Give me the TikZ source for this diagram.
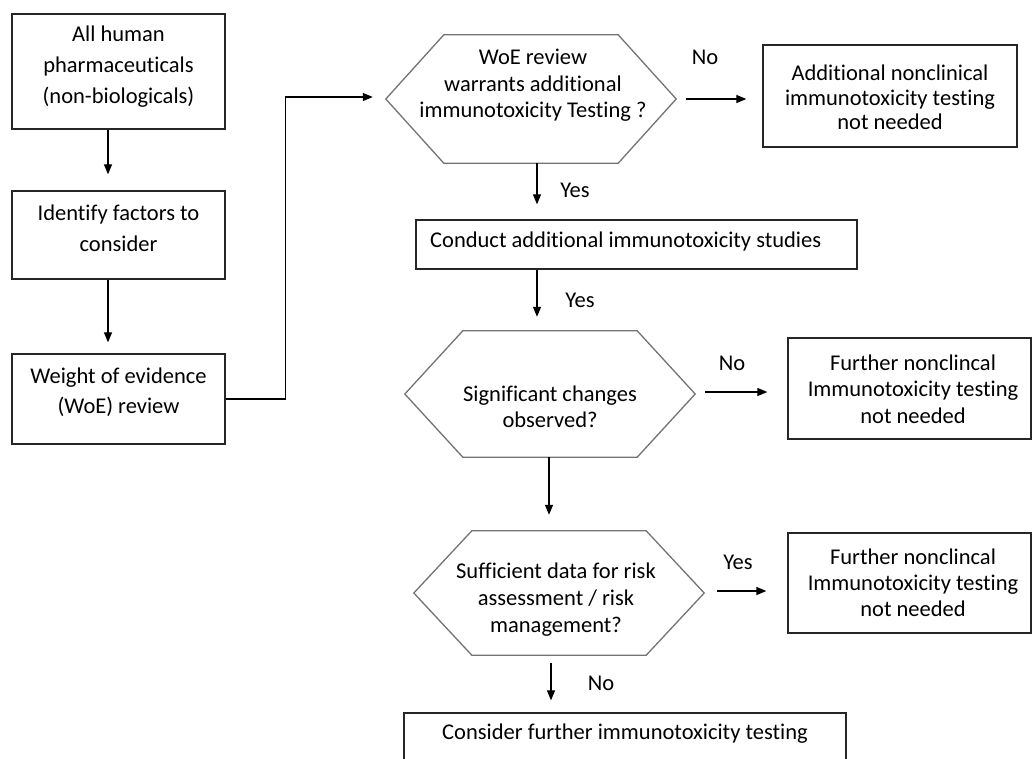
\documentclass[tikz,border=0pt]{standalone}
\usepackage{fontspec}
\setmainfont{Carlito}[Ligatures=NoCommon]
\usetikzlibrary{arrows.meta}
% outline of a flat hexagon drawn around a named rectangular node
\newcommand{\drawhex}[2]{%
  \draw[hexline] (#1.west) -- ([xshift=#2]#1.north west) -- ([xshift=-#2]#1.north east)
    -- (#1.east) -- ([xshift=-#2]#1.south east) -- ([xshift=#2]#1.south west) -- cycle;}
\begin{document}
\begin{tikzpicture}[x=1pt,y=-1pt,
  box/.style={draw=black!85, line width=1.3pt, inner sep=0pt},
  hexbox/.style={inner sep=0pt},
  hexline/.style={draw=black!55, line width=1.3pt, line join=miter},
  txt/.style={inner sep=0pt, align=center, font=\fontsize{22.5}{#1}\selectfont},
  txt/.default=26,
  lbl/.style={inner sep=0pt, font=\fontsize{22.5}{26}\selectfont},
  arr/.style={-{Triangle[length=10pt,width=8pt]}, line width=1.2pt},
]
\useasboundingbox (0,0) rectangle (1033,758);

% left column
\node[box, minimum width=213pt, minimum height=115pt] (start) at (118.5,71.5) {};
\node[txt=31] (startT) at (118.5,67) {All human\\pharmaceuticals\\(non-biologicals)};
\node[box, minimum width=213pt, minimum height=88pt] (ident) at (118.5,235) {};
\node[txt=31] (identT) at (118.5,228.5) {Identify factors to\\consider};
\node[box, minimum width=213pt, minimum height=90pt] (woe) at (118.5,399) {};
\node[txt=30] (woeT) at (118.5,392) {Weight of evidence\\(WoE) review};

% first decision
\node[hexbox, minimum width=290pt, minimum height=128pt] (q1) at (531,99) {};
\drawhex{q1}{58pt}
\node[txt=26.5] (q1T) at (533,85.5) {WoE review\\warrants additional\\immunotoxicity Testing ?};
\node[box, minimum width=254pt, minimum height=102pt] (notneeded) at (890,96) {};
\node[txt=24.5] (notneededT) at (890,97.5) {Additional nonclinical\\immunotoxicity testing\\not needed};

\node[box, minimum width=441pt, minimum height=49pt] (conduct) at (636.5,244.5) {};
\node[inner sep=0pt, anchor=west, font=\fontsize{22.5}{26}\selectfont] (conductT) at (430,241)
  {Conduct additional immunotoxicity studies};

% second decision
\node[hexbox, minimum width=290pt, minimum height=126pt] (q2) at (550,394) {};
\drawhex{q2}{58pt}
\node[txt=26] (q2T) at (550,407) {Significant changes\\observed?};
\node[box, minimum width=243pt, minimum height=101pt] (further1) at (909.5,388.5) {};
\node[txt=26.5] (further1T) at (913,389) {Further nonclincal\\Immunotoxicity testing\\not needed};

% third decision
\node[hexbox, minimum width=290pt, minimum height=124pt] (q3) at (559,593) {};
\drawhex{q3}{58pt}
\node[txt=27] (q3T) at (556,600) {Sufficient data for risk\\assessment / risk\\management?};
\node[box, minimum width=243pt, minimum height=100pt] (further2) at (909.5,583) {};
\node[txt=26] (further2T) at (913,582.5) {Further nonclincal\\Immunotoxicity testing\\not needed};

\node[box, minimum width=442pt, minimum height=57pt] (consider) at (625,741.5) {};
\node[txt] (considerT) at (625,734) {Consider further immunotoxicity testing};

% connectors
\coordinate (s1) at ([xshift=-10.5pt]start.south);
\draw[arr, shorten >=16pt] (s1) -- (s1 |- ident.north);
\coordinate (s2) at ([xshift=-10.5pt]ident.south);
\draw[arr, shorten >=11pt] (s2) -- (s2 |- woe.north);
\coordinate (s3) at ([yshift=2pt]q1.west);
\draw[arr, shorten >=13pt] (woe.east) -- ++(60,0) |- (s3);

\draw[arr, shorten <=10pt, shorten >=16pt] (q1.east) -- (q1.east -| notneeded.west);
\node[lbl] (no1) at (705,57) {No};
\coordinate (s4) at ([xshift=6pt]q1.south);
\draw[arr, shorten >=15pt] (s4) -- (s4 |- conduct.north);
\node[lbl] (yes1) at (575,190) {Yes};
\coordinate (s5) at (s4 |- conduct.south);
\draw[arr, shorten >=14pt] (s5) -- (s5 |- q2.north);
\node[lbl] (yes2) at (580,300) {Yes};

\draw[arr, shorten <=10pt, shorten >=20pt] ([yshift=2pt]q2.east) -- ([yshift=2pt]q2.east -| further1.west);
\node[lbl] (no2) at (732,363) {No};
\coordinate (s6) at ([xshift=-1pt]q2.south);
\draw[arr, shorten >=16pt] (s6) -- (s6 |- q3.north);

\draw[arr, shorten <=13pt, shorten >=21pt] ([yshift=2pt]q3.east) -- ([yshift=2pt]q3.east -| further2.west);
\node[lbl] (yes3) at (738,562) {Yes};
\coordinate (s7) at ([xshift=-8pt]q3.south);
\draw[arr, shorten <=8pt, shorten >=12pt] (s7) -- (s7 |- consider.north);
\node[lbl] (no3) at (601,683) {No};
\end{tikzpicture}
\end{document}
